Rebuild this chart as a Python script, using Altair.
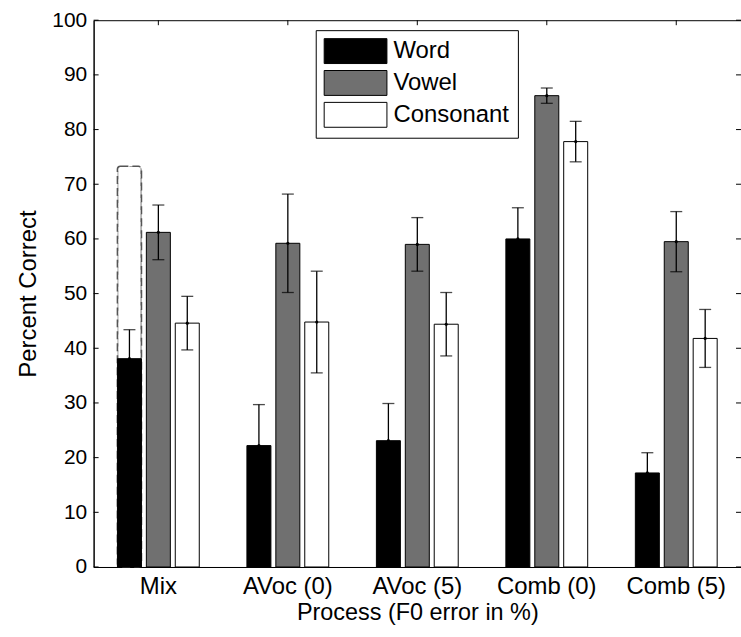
import altair as alt
import pandas as pd

processes = ["Mix", "AVoc (0)", "AVoc (5)", "Comb (0)", "Comb (5)"]
measures = ["Word", "Vowel", "Consonant"]
colors = ["#000000", "#707070", "#ffffff"]

word_mean = [38.1, 22.2, 23.1, 60.0, 17.2]
word_err = [5.3, 7.5, 6.8, 5.7, 3.7]
vowel_mean = [61.2, 59.2, 59.0, 86.2, 59.5]
vowel_err = [5.0, 9.0, 4.9, 1.4, 5.5]
cons_mean = [44.6, 44.8, 44.4, 77.8, 41.8]
cons_err = [4.9, 9.3, 5.8, 3.7, 5.3]

dashed_process = ["Mix"]
dashed_measure = ["Word"]
dashed_value = [73.3]

y_ticks = list(range(0, 101, 10))

FONT = "Liberation Sans"

rows = []
for m, means, errs in [("Word", word_mean, word_err),
                       ("Vowel", vowel_mean, vowel_err),
                       ("Consonant", cons_mean, cons_err)]:
    for p, v, e in zip(processes, means, errs):
        rows.append({"process": p, "measure": m, "mean": v,
                     "lo": v - e, "hi": v + e})
df = pd.DataFrame(rows)
dash_df = pd.DataFrame({"process": dashed_process, "measure": dashed_measure,
                        "mean": dashed_value})
tick_df = pd.DataFrame({"v": y_ticks})
proc_df = pd.DataFrame({"process": processes})

xscale = alt.Scale(domain=processes, paddingInner=0.33, paddingOuter=0.165)
oscale = alt.Scale(domain=measures, paddingInner=0.17, paddingOuter=0.085)
yscale = alt.Scale(domain=[0, 100], nice=False)

X = alt.X("process:N", sort=processes, scale=xscale,
          axis=alt.Axis(title="Process (F0 error in %)", labelAngle=0,
                        tickSize=0, labelPadding=8, titlePadding=2,
                        labelFontSize=24, titleFontSize=23.5,
                        titleFontWeight="normal", labelColor="black",
                        titleColor="black", domainColor="black",
                        labelFont=FONT, titleFont=FONT))
XO = alt.XOffset("measure:N", sort=measures, scale=oscale)
Y = alt.Y("mean:Q", scale=yscale,
          axis=alt.Axis(title="Percent Correct", values=y_ticks, tickSize=0,
                        labelPadding=7, titlePadding=11, labelFontSize=21,
                        titleFontSize=24, titleFontWeight="normal",
                        labelColor="black", titleColor="black",
                        domainColor="black", grid=False,
                        labelFont=FONT, titleFont=FONT))

dashed = alt.Chart(dash_df).mark_bar(
    fillOpacity=0, stroke="#555555", strokeDash=[8, 4], strokeWidth=1.6,
    cornerRadius=3
).encode(x=X, xOffset=XO, y=Y)

bars = alt.Chart(df).mark_bar(stroke="black", strokeWidth=1).encode(
    x=X, xOffset=XO, y=Y,
    fill=alt.Fill("measure:N", sort=measures,
                  scale=alt.Scale(domain=measures, range=colors),
                  legend=alt.Legend(
                      title=None, orient="none", legendX=223, legendY=10,
                      direction="vertical",
                      symbolType="M-1,-1H4.04V1H-1Z", symbolSize=625,
                      symbolStrokeColor="black", symbolStrokeWidth=1,
                      symbolOpacity=1, labelFontSize=24, labelFont=FONT,
                      labelColor="black", labelOffset=44, labelLimit=300,
                      padding=8, rowPadding=2, strokeColor="black",
                      fillColor="white")),
)

err_rule = alt.Chart(df).mark_rule(color="black", strokeWidth=1.3).encode(
    x=X, xOffset=XO, y=alt.Y("lo:Q", scale=yscale), y2="hi:Q")
cap_lo = alt.Chart(df).mark_tick(color="black", size=12, thickness=1.3,
                                 orient="horizontal").encode(
    x=X, xOffset=XO, y=alt.Y("lo:Q", scale=yscale))
cap_hi = alt.Chart(df).mark_tick(color="black", size=12, thickness=1.3,
                                 orient="horizontal").encode(
    x=X, xOffset=XO, y=alt.Y("hi:Q", scale=yscale))
dots = alt.Chart(df).mark_point(filled=True, color="black", size=10,
                                opacity=1).encode(x=X, xOffset=XO, y=Y)

left_ticks = alt.Chart(tick_df).mark_rule(color="black", strokeWidth=1).encode(
    y=alt.Y("v:Q", scale=yscale), x=alt.value(0), x2=alt.value(5))
right_ticks = alt.Chart(tick_df).mark_rule(color="black", strokeWidth=1).encode(
    y=alt.Y("v:Q", scale=yscale), x=alt.value(645), x2=alt.value(650))
top_ticks = alt.Chart(proc_df).mark_rule(color="black", strokeWidth=1).encode(
    x=alt.X("process:N", sort=processes, scale=xscale),
    y=alt.value(0), y2=alt.value(5))

chart = alt.layer(
    dashed, bars, err_rule, cap_lo, cap_hi, dots,
    left_ticks, right_ticks, top_ticks
).properties(
    width=650, height=549,
    padding={"left": 94, "top": 19, "right": 0, "bottom": 69},
    autosize=alt.AutoSizeParams(type="none"),
    background="white",
).configure_view(stroke="black", strokeWidth=1)

chart.save("out.html", embed_options={"renderer": "svg", "actions": False})
